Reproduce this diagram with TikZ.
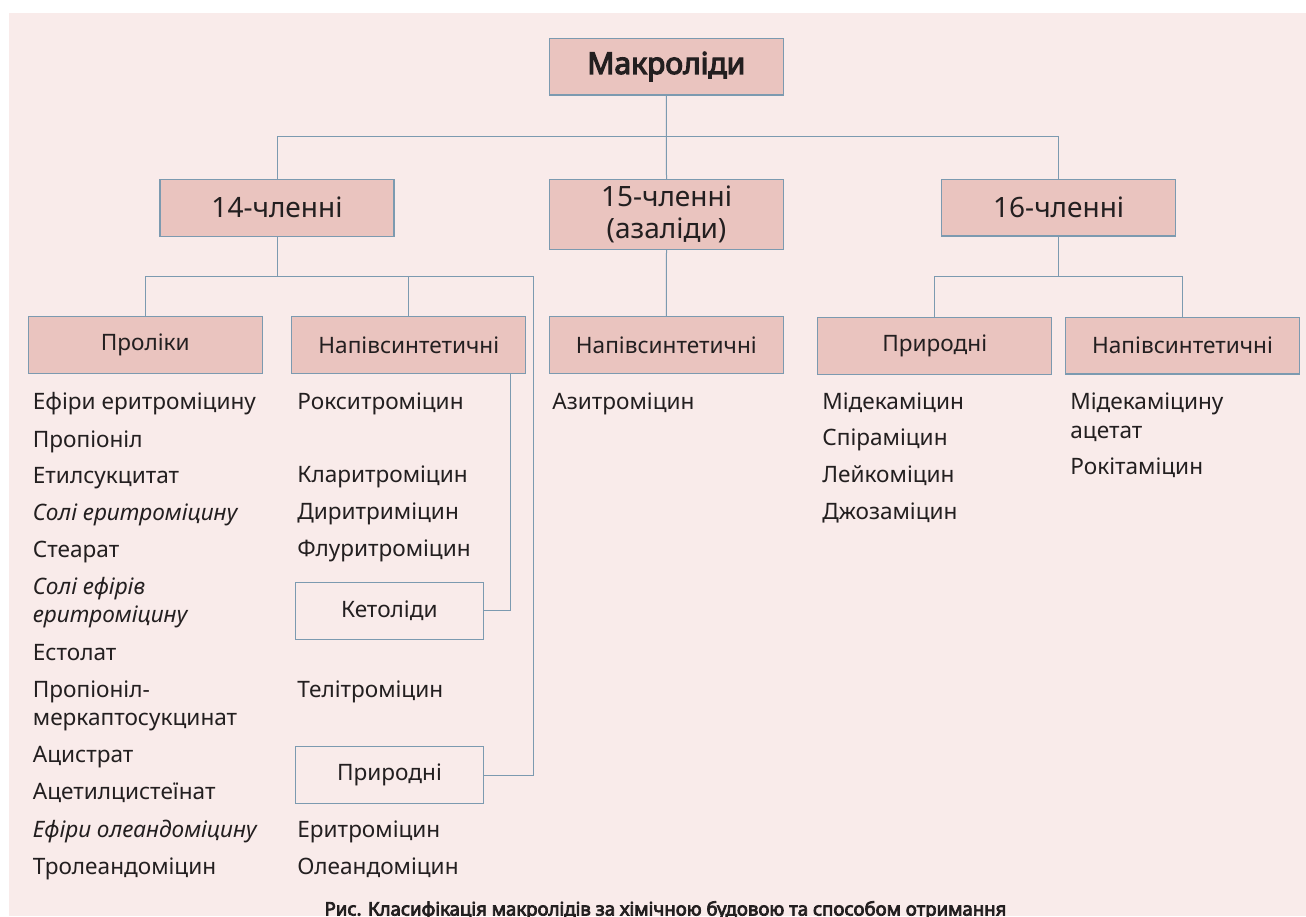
\documentclass[tikz,border=0pt]{standalone}
\usepackage{fontspec}
\setmainfont{Noto Sans}[AutoFakeBold=4]
\definecolor{bgpink}{HTML}{F9EBEA}
\definecolor{boxpink}{HTML}{EAC4BF}
\definecolor{frame}{HTML}{7C9AB0}
\definecolor{ink}{HTML}{231F20}

\begin{document}
\begin{tikzpicture}[x=0.5pt,y=-0.5pt,
    cls/.style={rectangle,fill=boxpink,draw=frame,line width=0.6pt,minimum width=117pt,minimum height=28.4pt,text=ink,align=center,font=\fontsize{14}{15.8}\selectfont},
    leaf/.style={cls,font=\fontsize{11.3}{14}\selectfont},
    sub/.style={rectangle,draw=frame,line width=0.6pt,minimum width=94pt,minimum height=28.4pt,text=ink,font=\fontsize{11.3}{14}\selectfont},
    item/.style={anchor=mid west,inner sep=0pt,text=ink,font=\fontsize{11.3}{14}\selectfont},
    link/.style={draw=frame,line width=0.5pt}]
    \useasboundingbox (0,0) rectangle (1306,916);
    \clip (0,0) rectangle (1306,916);
    \fill[bgpink] (9,13) rectangle (1306,916);

    % tree boxes
    \node[cls,font=\fontsize{15}{17}\selectfont\bfseries] (macro) at (666.3,66.5) {Макроліди};
    \node[cls] (m14) at (277,207.7) {14-членні};
    \node[cls,minimum height=34.2pt] (m15) at (666.5,214.5) {15-членні\\(азаліди)};
    \node[cls] (m16) at (1058.7,207.5) {16-членні};
    \node[leaf] (prol) at (145.3,345) {Проліки};
    \node[leaf] (semi14) at (408.8,345) {Напівсинтетичні};
    \node[leaf] (semi15) at (666.3,345) {Напівсинтетичні};
    \node[leaf] (nat16) at (934.7,346) {Природні};
    \node[leaf] (semi16) at (1182.5,345.5) {Напівсинтетичні};
    \node[sub] (keto) at (389.3,610.7) {Кетоліди};
    \node[sub] (nat14) at (389.5,775) {Природні};

    % proliky
    \node[item] (efiry) at (32.5,404) {Ефіри еритроміцину};
    \node[item] (propionil) at (32.5,441.7) {Пропіоніл};
    \node[item] (etyl) at (32.5,478) {Етилсукцитат};
    \node[item,font=\fontsize{11.3}{14}\selectfont\itshape] (soli) at (32.5,515) {Солі еритроміцину};
    \node[item] (stearat) at (32.5,552) {Стеарат};
    \node[item,font=\fontsize{11.3}{14}\selectfont\itshape] (solief) at (32.5,589) {Солі ефірів};
    \node[item,font=\fontsize{11.3}{14}\selectfont\itshape] (solief2) at (32.5,617) {еритроміцину};
    \node[item] (estolat) at (32.5,655) {Естолат};
    \node[item] (merk) at (32.5,692) {Пропіоніл-};
    \node[item] (merk2) at (32.5,720) {меркаптосукцинат};
    \node[item] (acystrat) at (32.5,757) {Ацистрат};
    \node[item] (acetyl) at (32.5,794) {Ацетилцистеїнат};
    \node[item,font=\fontsize{11.3}{14}\selectfont\itshape] (efolean) at (32.5,832) {Ефіри олеандоміцину};
    \node[item] (trolean) at (32.5,869) {Тролеандоміцин};

    % 14, semisynthetic and natural
    \node[item] (roxy) at (297,404) {Рокситроміцин};
    \node[item] (clari) at (297,477) {Кларитроміцин};
    \node[item] (diri) at (297,514) {Диритриміцин};
    \node[item] (fluri) at (297,551) {Флуритроміцин};
    \node[item] (teli) at (297,692) {Телітроміцин};
    \node[item] (erythro) at (297,832) {Еритроміцин};
    \node[item] (oleando) at (297,869) {Олеандоміцин};

    \node[item] (azi) at (552,404) {Азитроміцин};

    % 16
    \node[item] (mideka) at (822,404) {Мідекаміцин};
    \node[item] (spira) at (822,440) {Спіраміцин};
    \node[item] (leuko) at (822,477) {Лейкоміцин};
    \node[item] (josa) at (822,514) {Джозаміцин};
    \node[item] (midac) at (1070,404) {Мідекаміцину};
    \node[item] (midac2) at (1070,433) {ацетат};
    \node[item] (roki) at (1070,469) {Рокітаміцин};

    \node[anchor=base,inner sep=0pt,text=ink,font=\fontsize{9.3}{11}\selectfont\bfseries] (caption) at (665.5,915.5)
        {Рис. Класифікація макролідів за хімічною будовою та способом отримання};

    % connectors
    \coordinate (bus1) at (666.3,136.7);
    \coordinate (bus2) at (277,276.5);
    \coordinate (rail) at (533.5,276.5);
    \coordinate (bus3) at (1058.7,276.5);
    \draw[link] (macro.south) -- (m15.north);
    \draw[link] (m14.north) |- (bus1) -| (m16.north);
    \draw[link] (m14.south) -- (bus2);
    \draw[link] (prol.north) |- (bus2) -- (rail) |- (nat14.east);
    \draw[link] (semi14.north) -- (semi14.north |- bus2);
    \draw[link] ([xshift=-8.2pt]semi14.south east) |- (keto.east);
    \draw[link] (m15.south) -- (semi15.north);
    \draw[link] (m16.south) -- (bus3);
    \draw[link] (nat16.north) |- (bus3) -| (semi16.north);
\end{tikzpicture}
\end{document}
